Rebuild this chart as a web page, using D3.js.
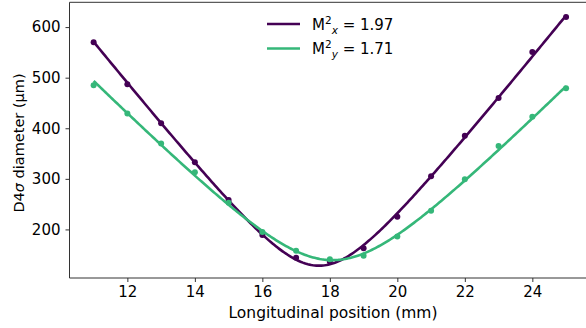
<!DOCTYPE html>
<html>
<head>
<meta charset="utf-8">
<script src="https://cdn.jsdelivr.net/npm/d3@7"></script>
<style>
  body { margin: 0; background: #fff; }
  text { font-family: "DejaVu Sans", Verdana, sans-serif; fill: #000; }
</style>
</head>
<body>
<svg id="chart" width="586" height="328"></svg>
<script>
// measured positions (mm) and D4sigma diameters (um)
var positions = [11, 12, 13, 14, 15, 16, 17, 18, 19, 20, 21, 22, 23, 24, 25];
var diamX = [570, 487, 410, 333, 258, 189, 144, 136, 163, 225, 305, 385, 460, 551, 620];
var diamY = [485, 429, 370, 313, 253, 195, 158, 141, 148, 186, 237, 299, 365, 423, 479];
var xTicks = [12, 14, 16, 18, 20, 22, 24];
var yTicks = [200, 300, 400, 500, 600];
var legendLabels = [{sub: "x", value: "1.97"}, {sub: "y", value: "1.71"}];
var colors = ["#440154", "#35b779"];

var svg = d3.select("#chart");

var x = d3.scaleLinear().domain([10.3, 25.7]).range([70, 589.7]);
var y = d3.scaleLinear().domain([104, 649]).range([278, 2.3]);

// weighted least squares fit of D^2 = a + b z + c z^2
// (weights 1/D^2 so the residuals behave like residuals in D)
function fitCaustic(zs, ds) {
  var S = [[0,0,0],[0,0,0],[0,0,0]], R = [0,0,0];
  zs.forEach(function(z, i) {
    var p = [1, z, z*z], v = ds[i]*ds[i], w = 1 / v;
    for (var r = 0; r < 3; r++) {
      R[r] += w*p[r]*v;
      for (var c = 0; c < 3; c++) S[r][c] += w*p[r]*p[c];
    }
  });
  for (var k = 0; k < 3; k++) {
    for (var r2 = k + 1; r2 < 3; r2++) {
      var f = S[r2][k] / S[k][k];
      for (var c2 = k; c2 < 3; c2++) S[r2][c2] -= f*S[k][c2];
      R[r2] -= f*R[k];
    }
  }
  var sol = [0,0,0];
  for (var i = 2; i >= 0; i--) {
    var s = R[i];
    for (var j = i + 1; j < 3; j++) s -= S[i][j]*sol[j];
    sol[i] = s / S[i][i];
  }
  return function(z) { return Math.sqrt(sol[0] + sol[1]*z + sol[2]*z*z); };
}

var zFine = d3.range(11, 25.0001, 0.05);

// spines (right one falls outside the picture)
[[69.5, 2.3, 69.5, 278], [69.5, 2.3, 590, 2.3], [69.5, 278, 590, 278]].forEach(function(s) {
  svg.append("line").attr("x1", s[0]).attr("y1", s[1]).attr("x2", s[2]).attr("y2", s[3])
    .attr("stroke", "#333").attr("stroke-width", 1);
});

// x axis
var gx = svg.append("g")
  .attr("transform", "translate(0,278)")
  .call(d3.axisBottom(x).tickValues(xTicks).tickSize(4).tickPadding(4).tickFormat(d3.format("d")));
gx.select(".domain").remove();
gx.selectAll("line").attr("stroke", "#333");
gx.selectAll("text").style("font-size", "15px").style("font-family", "DejaVu Sans");

// y axis
var gy = svg.append("g")
  .attr("transform", "translate(69.5,0)")
  .call(d3.axisLeft(y).tickValues(yTicks).tickSize(4).tickPadding(5).tickFormat(d3.format("d")));
gy.select(".domain").remove();
gy.selectAll("line").attr("stroke", "#333");
gy.selectAll("text").style("font-size", "15px").style("font-family", "DejaVu Sans");

// axis labels
svg.append("text")
  .attr("x", 333).attr("y", 318)
  .attr("text-anchor", "middle")
  .style("font-size", "15.5px")
  .text("Longitudinal position (mm)");

var yl = svg.append("text")
  .attr("transform", "translate(24,143) rotate(-90)")
  .attr("text-anchor", "middle")
  .style("font-size", "14.5px");
yl.append("tspan").text("D4");
yl.append("tspan").style("font-style", "italic").text("σ");
yl.append("tspan").text(" diameter (μm)");

// series
var line = d3.line().x(function(d) { return x(d[0]); }).y(function(d) { return y(d[1]); });

[diamX, diamY].forEach(function(ds, i) {
  var fit = fitCaustic(positions, ds);
  svg.selectAll(".pt" + i)
    .data(positions)
    .enter().append("circle")
      .attr("class", "pt" + i)
      .attr("cx", function(d) { return x(d); })
      .attr("cy", function(d, j) { return y(ds[j]); })
      .attr("r", 3)
      .attr("fill", colors[i]);
  svg.append("path")
    .datum(zFine.map(function(z) { return [z, fit(z)]; }))
    .attr("d", line)
    .attr("fill", "none")
    .attr("stroke", colors[i])
    .attr("stroke-width", 2.6);
});

// legend
var legend = svg.append("g");
legendLabels.forEach(function(l, i) {
  var ly = 24 + i*24.5;
  legend.append("line")
    .attr("x1", 267).attr("x2", 300).attr("y1", ly).attr("y2", ly)
    .attr("stroke", colors[i]).attr("stroke-width", 2.6);
  var t = legend.append("text").attr("x", 312).attr("y", ly + 5.5).style("font-size", "15px");
  t.append("tspan").text("M");
  t.append("tspan").attr("dy", -6).style("font-size", "10.5px").text("2");
  t.append("tspan").attr("dy", 10).style("font-size", "10.5px").style("font-style", "italic").text(l.sub);
  t.append("tspan").attr("dy", -4).text(" = " + l.value);
});
</script>
</body>
</html>
